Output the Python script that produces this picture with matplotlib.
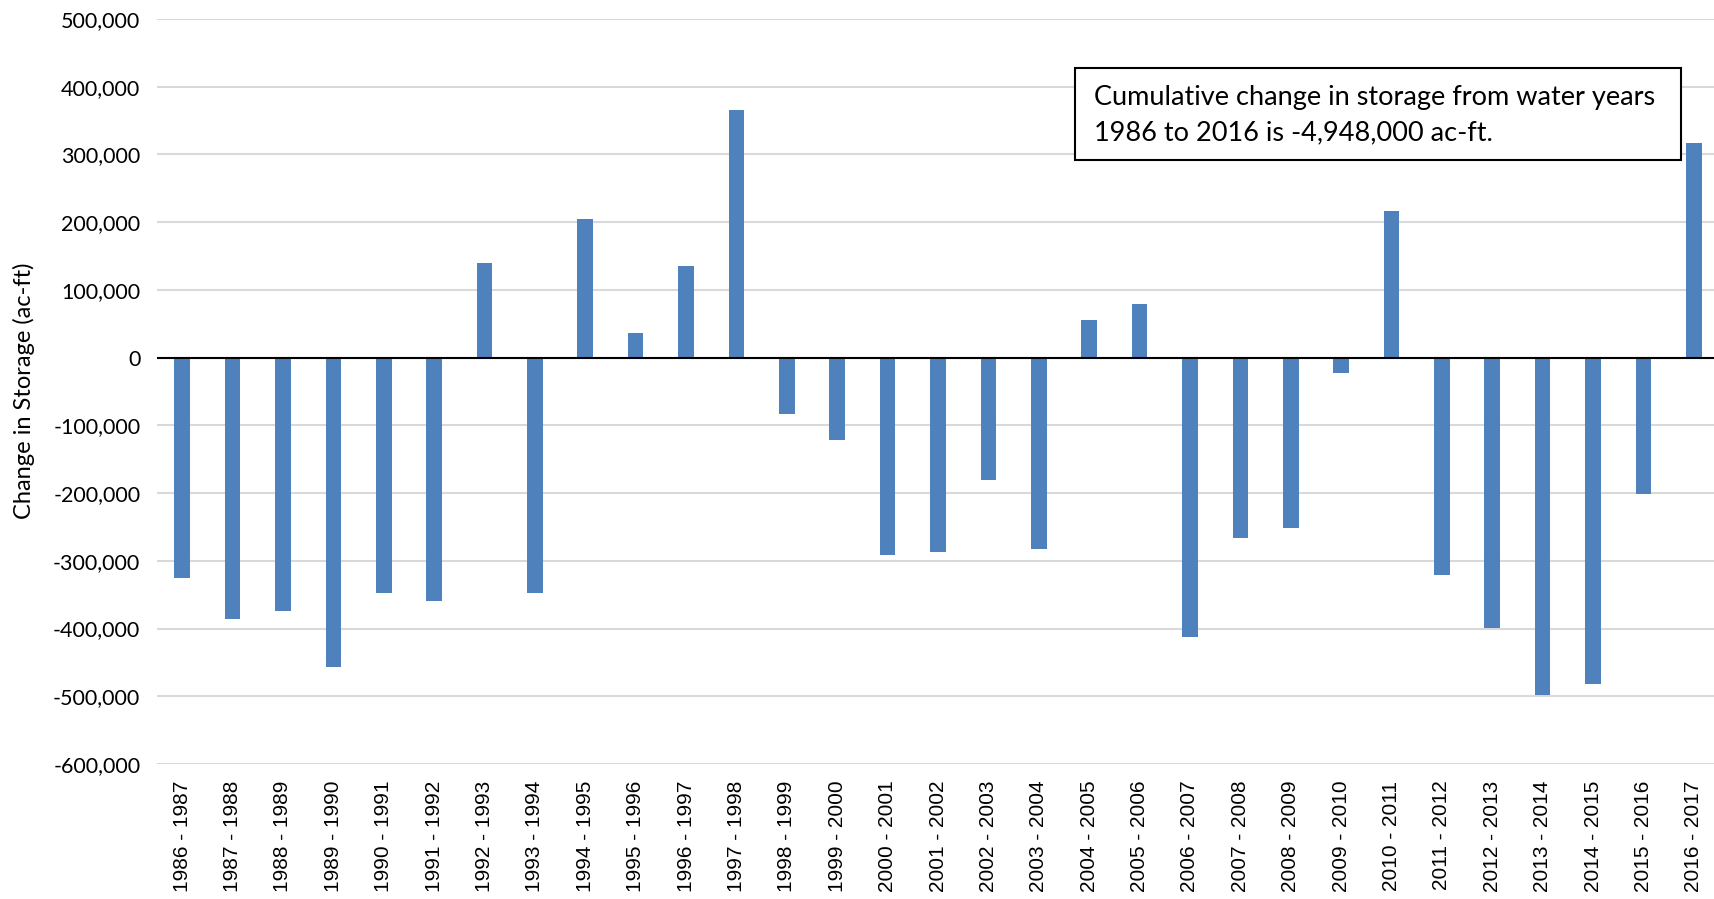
import numpy as np
import matplotlib.pyplot as plt
from matplotlib.patches import Rectangle
from matplotlib.ticker import FuncFormatter

periods = ["1986 - 1987", "1987 - 1988", "1988 - 1989", "1989 - 1990", "1990 - 1991",
           "1991 - 1992", "1992 - 1993", "1993 - 1994", "1994 - 1995", "1995 - 1996",
           "1996 - 1997", "1997 - 1998", "1998 - 1999", "1999 - 2000", "2000 - 2001",
           "2001 - 2002", "2002 - 2003", "2003 - 2004", "2004 - 2005", "2005 - 2006",
           "2006 - 2007", "2007 - 2008", "2008 - 2009", "2009 - 2010", "2010 - 2011",
           "2011 - 2012", "2012 - 2013", "2013 - 2014", "2014 - 2015", "2015 - 2016",
           "2016 - 2017"]
change = [-326000, -386000, -374000, -457000, -347000,
          -359000, 139000, -348000, 204000, 37000,
          136000, 366000, -83000, -121000, -291000,
          -287000, -180000, -282000, 55000, 79000,
          -413000, -267000, -252000, -22000, 217000,
          -321000, -399000, -498000, -482000, -201000,
          317000]
y_ticks = np.arange(-600000, 500001, 100000)
note = "Cumulative change in storage from water years\n1986 to 2016 is -4,948,000 ac-ft."

fig = plt.figure(figsize=(17.14, 8.99), dpi=100)
ax = fig.add_axes([157 / 1714, 1 - 764 / 899, 1562 / 1714, (764 - 19) / 899])

x = np.arange(len(periods))
ax.bar(x, change, width=0.31, color="#4F81BD", zorder=3)
ax.axhline(0, color="black", lw=1.5, zorder=4)

ax.set_xlim(-0.5, len(periods) - 0.5)
ax.set_ylim(-600000, 500000)
ax.set_yticks(y_ticks)
ax.yaxis.set_major_formatter(FuncFormatter(lambda v, p: f"{int(v):,}"))
ax.grid(axis="y", color="#D9D9D9", lw=1.5, zorder=0)
ax.set_xticks(x)
ax.set_xticklabels(periods, rotation=90, fontsize=15, family="Liberation Sans")
ax.tick_params(axis="both", length=0)
ax.tick_params(axis="x", pad=12)
ax.tick_params(axis="y", pad=12)
for lab in ax.get_yticklabels():
    lab.set_family("Lato")
    lab.set_fontsize(15.5)
for s in ax.spines.values():
    s.set_visible(False)

fig.text(24 / 1714, 1 - 391 / 899, "Change in Storage (ac-ft)", rotation=90,
         ha="center", va="center", fontsize=17, family="Lato")

fig.patches.append(Rectangle((1075 / 1714, 1 - 160 / 899), (1681 - 1075) / 1714, 92 / 899,
                             transform=fig.transFigure, fill=True, facecolor="white",
                             edgecolor="black", lw=1.5, zorder=5))
fig.text(1094 / 1714, 1 - 115 / 899, note, ha="left", va="center",
         fontsize=19.5, family="Lato", linespacing=1.5, zorder=6)

fig.savefig("out.png", dpi=100)
